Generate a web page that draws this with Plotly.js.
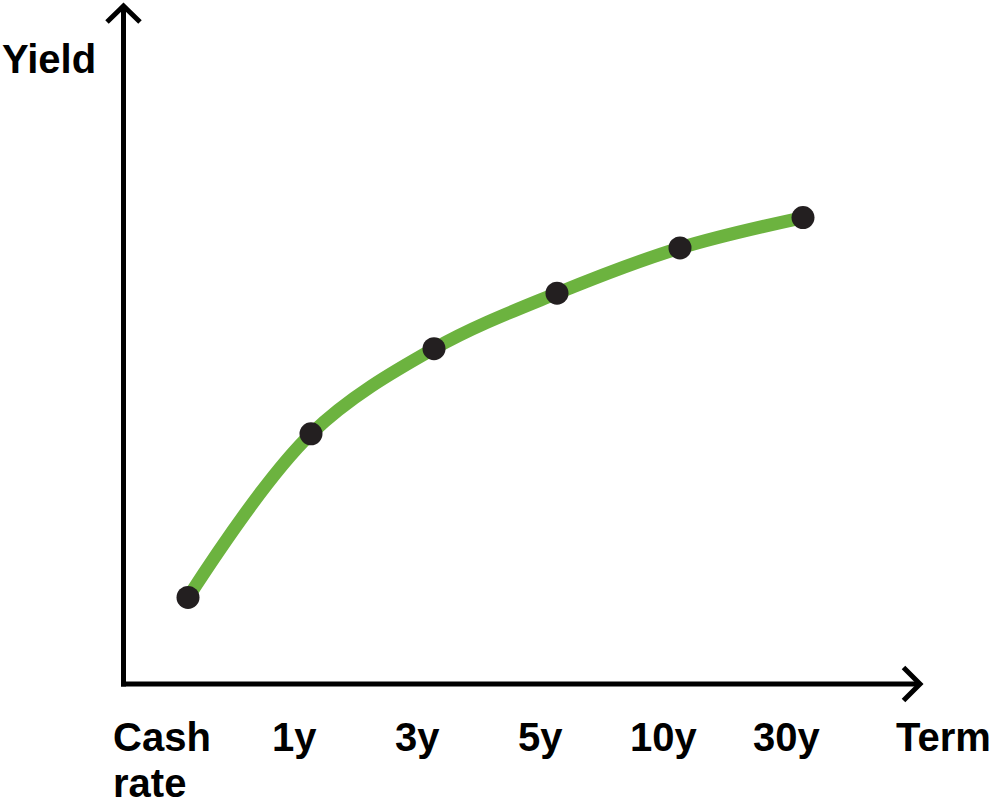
<!DOCTYPE html>
<html>
<head>
<meta charset="utf-8">
<script src="https://cdn.plot.ly/plotly-3.0.1.min.js"></script>
<style>html,body{margin:0;padding:0;background:#fff;overflow:hidden}</style>
</head>
<body>
<div id="chart" style="width:995px;height:805px"></div>
<script>
// ---- data ----
const categories = ["Cash<br>rate", "1y", "3y", "5y", "10y", "30y"];
const yieldValues = [1.31, 3.73, 4.99, 5.81, 6.48, 6.93];
const xTitle = "Term";
const yTitle = "Yield";

// ---- layout helpers (figure pixels -> paper fractions) ----
const W = 995, H = 805;
const pxX = x => x / W;
const pxY = y => 1 - y / H;
const FAMILY = "Liberation Sans, Arial, sans-serif";
const FONT = {family: FAMILY, size: 40, color: "#000"};
const idx = categories.map((c, i) => i);

const curve = {
  x: idx, y: yieldValues, type: "scatter", mode: "lines",
  line: {shape: "spline", smoothing: 1.0, color: "#6cb33f", width: 13},
  hoverinfo: "skip", showlegend: false
};
const dots = {
  x: idx, y: yieldValues, type: "scatter", mode: "markers",
  marker: {size: 23, color: "#231f20"}, showlegend: false
};

function pathPx(pts) {
  return pts.map((p, i) => (i ? "L" : "M") + pxX(p[0]) + "," + pxY(p[1])).join(" ");
}
const axisLine = {color: "#000", width: 5};
const shapes = [
  {type: "path", xref: "paper", yref: "paper", path: pathPx([[123.5, 686.5], [123.5, 6]]), line: axisLine},
  {type: "path", xref: "paper", yref: "paper", path: pathPx([[107, 22], [123.5, 6], [140, 22]]), line: axisLine},
  {type: "path", xref: "paper", yref: "paper", path: pathPx([[121, 684], [920, 684]]), line: axisLine},
  {type: "path", xref: "paper", yref: "paper", path: pathPx([[903.5, 667.5], [920, 684], [903.5, 700.5]]), line: axisLine}
];

const annotations = [];
const LABEL_TOP = 714, LINE_GAP = 46;
categories.forEach((c, i) => {
  const lines = c.split("<br>");
  const multi = lines.length > 1;
  lines.forEach((t, k) => {
    annotations.push({
      x: i, xref: "x", y: pxY(LABEL_TOP + k * LINE_GAP), yref: "paper", text: "<b>" + t + "</b>",
      showarrow: false, xanchor: multi ? "left" : "center", yanchor: "top",
      xshift: multi ? -76 : -17, borderpad: 0, font: FONT
    });
  });
});
annotations.push({x: pxX(895), xref: "paper", y: pxY(LABEL_TOP), yref: "paper", text: "<b>" + xTitle + "</b>",
  showarrow: false, xanchor: "left", yanchor: "top", borderpad: 0, font: FONT});
annotations.push({x: pxX(1), xref: "paper", y: pxY(36), yref: "paper", text: "<b>" + yTitle + "</b>",
  showarrow: false, xanchor: "left", yanchor: "top", borderpad: 0, font: FONT});

const layout = {
  width: W, height: H,
  margin: {l: 0, r: 0, t: 0, b: 0, pad: 0},
  paper_bgcolor: "#fff", plot_bgcolor: "rgba(0,0,0,0)",
  xaxis: {domain: [0, 1], range: [-188 / 123, (W - 188) / 123], visible: false, fixedrange: true},
  yaxis: {domain: [0, 1], range: [(686 - H) / 67.6, 686 / 67.6], visible: false, fixedrange: true},
  shapes: shapes, annotations: annotations, showlegend: false
};

Plotly.newPlot("chart", [curve, dots], layout, {displayModeBar: false, staticPlot: true});
</script>
</body>
</html>
